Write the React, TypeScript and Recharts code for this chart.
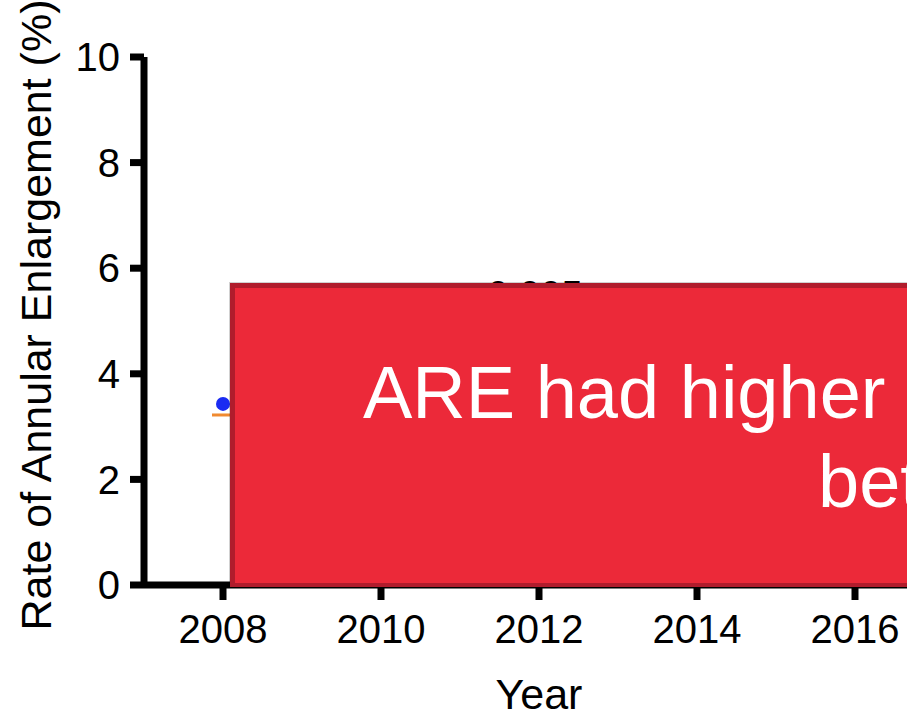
import React from "react";
import { ScatterChart, Scatter, XAxis, YAxis, ReferenceDot } from "recharts";

const FONT = '"Liberation Sans", Arial, Helvetica, sans-serif';

// observed annual enlargement rate and the group mean
const years = [2008];
const rates = [3.43];
const meanRates = [3.22];

const xTicks = [2008, 2010, 2012, 2014, 2016];
const yTicks = [0, 2, 4, 6, 8, 10];

const pLabel = "0.005";
const pLabelYear = 2012;
const pLabelLevel = 5.5;

const pointData = years.map((year, i) => ({ year, rate: rates[i] }));
const meanData = years.map((year, i) => ({ year, rate: meanRates[i] }));

function MeanBar(props: any) {
  const { cx, cy } = props;
  if (cx == null || cy == null) return null;
  return <line x1={cx - 11} x2={cx + 11} y1={cy} y2={cy} stroke="#f08a30" strokeWidth={3} />;
}

function Dot(props: any) {
  const { cx, cy } = props;
  if (cx == null || cy == null) return null;
  return <circle cx={cx} cy={cy} r={7} fill="#1a2bf2" />;
}

function YTitle(props: any) {
  const vb = props.viewBox || { x: 0, y: 57, width: 144, height: 528 };
  const x = vb.x + 51;
  const y = vb.y + vb.height / 2 - 6;
  return (
    <text
      x={x}
      y={y}
      transform={`rotate(-90 ${x} ${y})`}
      textAnchor="middle"
      fontSize={43}
      fill="#000"
      fontFamily={FONT}
    >
      Rate of Annular Enlargement (%)
    </text>
  );
}

const axisStroke = { stroke: "#000", strokeWidth: 7 };
const tickStyle = { fontSize: 40, fill: "#000", fontFamily: FONT };

export default function App() {
  return (
    <div style={{ position: "relative", width: 907, height: 715, overflow: "hidden", fontFamily: FONT }}>
      <style>{`body{margin:0}`}</style>
      <ScatterChart
        width={1000}
        height={715}
        margin={{ top: 57, right: 66, bottom: 0, left: 0 }}
        style={{ fontFamily: FONT }}
      >
        <XAxis
          type="number"
          dataKey="year"
          domain={[2007, 2017]}
          ticks={xTicks}
          allowDataOverflow
          height={130}
          axisLine={axisStroke}
          tickLine={axisStroke}
          tickSize={15}
          tickMargin={15}
          tick={tickStyle}
          label={{ value: "Year", position: "insideBottom", offset: 6, fontSize: 43, fill: "#000" }}
        />
        <YAxis
          type="number"
          dataKey="rate"
          domain={[0, 10]}
          ticks={yTicks}
          allowDataOverflow
          width={144}
          axisLine={axisStroke}
          tickLine={axisStroke}
          tickSize={14}
          tickMargin={10}
          tick={tickStyle}
          label={(p: any) => <YTitle {...p} />}
        />
        <Scatter data={meanData} shape={MeanBar} isAnimationActive={false} />
        <Scatter data={pointData} shape={Dot} isAnimationActive={false} />
        <ReferenceDot
          x={pLabelYear}
          y={pLabelLevel}
          r={0}
          fill="none"
          stroke="none"
          label={{ value: pLabel, position: "center", fontSize: 38, fill: "#000", dx: -4 }}
        />
      </ScatterChart>

      {/* callout banner laid over the plot */}
      <svg
        width={907}
        height={715}
        style={{ position: "absolute", left: 0, top: 0, pointerEvents: "none" }}
      >
        <rect x={229} y={282} width={720} height={306} fill="rgba(0,0,0,0.18)" />
        <rect x={230} y={283} width={720} height={304} fill="#b01c2c" />
        <rect x={235} y={288} width={720} height={295} fill="#ec2939" />
        <text x={363} y={418} fontSize={74} fill="#fff" fontFamily={FONT}>
          ARE had higher rates
        </text>
        <text x={818} y={507} fontSize={74} fill="#fff" fontFamily={FONT}>
          between
        </text>
      </svg>
    </div>
  );
}
